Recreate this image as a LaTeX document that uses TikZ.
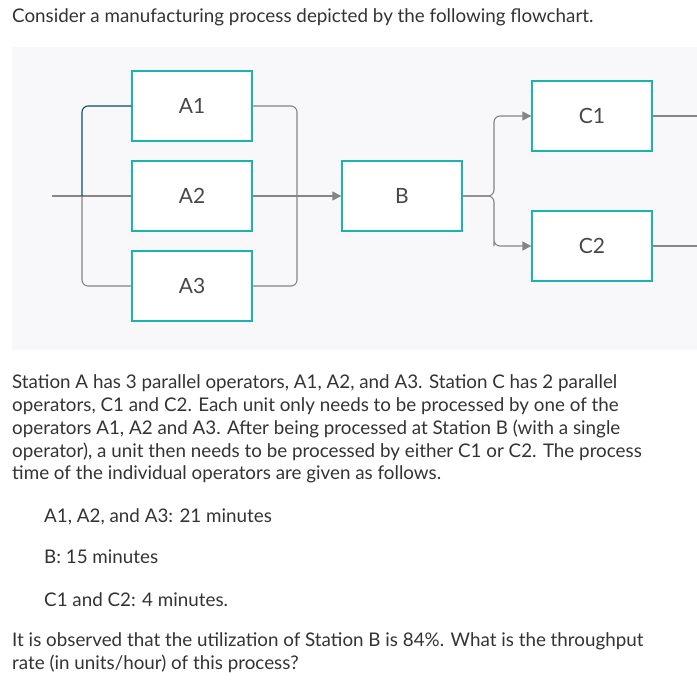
\documentclass[tikz,border=0pt]{standalone}
\usepackage{fontspec}
\setmainfont{Lato}
\usetikzlibrary{arrows.meta}
\definecolor{teal}{HTML}{1BB3B0}
\definecolor{wire}{HTML}{858585}
\definecolor{dark}{HTML}{0D4A6B}
\definecolor{panel}{HTML}{F8F8FB}
\definecolor{txt}{HTML}{333333}
\begin{document}
\begin{tikzpicture}[x=1pt,y=-1pt,
 box/.style={draw=teal,line width=1.3pt,fill=white,minimum width=120pt,minimum height=70pt,inner sep=0pt,font=\fontsize{21}{21}\selectfont,text=txt!90},
 w/.style={draw=wire,line width=1.1pt,rounded corners=6pt},
 arr/.style={w,-{Triangle[length=9pt,width=9pt]}},
 t/.style={anchor=base west,inner sep=0pt,font=\fontsize{18.8}{18.8}\selectfont,text=txt}]
\useasboundingbox (0,0) rectangle (697,681);
\fill[panel] (12,47) rectangle (697,350);
\node[box] (A1) at (192,106) {A1};
\node[box] (A2) at (192,196) {A2};
\node[box] (A3) at (192,286) {A3};
\node[box] (B) at (402,196) {B};
\node[box] (C1) at (592,116) {C1};
\node[box] (C2) at (592,246) {C2};
\coordinate (in) at (52,196);
\coordinate (c1o) at (697,116);
\coordinate (c2o) at (697,246);
\draw[w] (in) -- (A2.west);
\draw[w] (A3.west) -| (82,196);
\draw[w,draw=dark] (82,196) |- (A1.west);
\draw[w] (A1.east) -| (297,196);
\draw[w] (A3.east) -| (297,196);
\draw[arr] (A2.east) -- (B.west);
\draw[arr] (B.east) -| (494,150) |- (C1.west);
\draw[arr] (B.east) -| (494,240) |- (C2.west);
\draw[w] (C1.east) -- (c1o);
\draw[w] (C2.east) -- (c2o);
\node[t] at (12,22) {Consider a manufacturing process depicted by the following flowchart.};
\node[t] at (12,388) {Station A has 3 parallel operators, A1, A2, and A3. Station C has 2 parallel};
\node[t] at (12,411) {operators, C1 and C2. Each unit only needs to be processed by one of the};
\node[t] at (12,434) {operators A1, A2 and A3. After being processed at Station B (with a single};
\node[t] at (12,457) {operator), a unit then needs to be processed by either C1 or C2. The process};
\node[t] at (12,479) {time of the individual operators are given as follows.};
\node[t] at (44,522) {A1, A2, and A3: 21 minutes};
\node[t] at (44,563) {B: 15 minutes};
\node[t] at (44,606) {C1 and C2: 4 minutes.};
\node[t] at (12,646) {It is observed that the utilization of Station B is 84\%. What is the throughput};
\node[t] at (12,669) {rate (in units/hour) of this process?};
\end{tikzpicture}
\end{document}
